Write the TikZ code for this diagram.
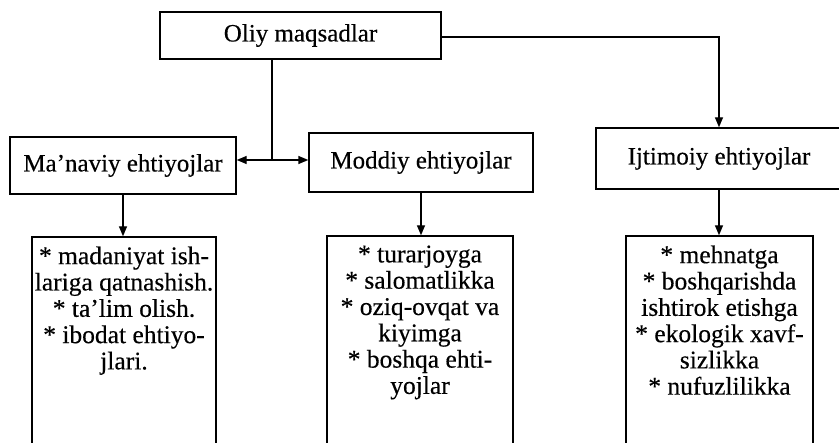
\documentclass[tikz,border=0pt]{standalone}
\usepackage{fontspec}
\setmainfont{Liberation Serif}[FakeBold=0.35]
\usetikzlibrary{arrows.meta}
\begin{document}
\begin{tikzpicture}[x=1pt,y=-1pt,
  box/.style={draw,line width=1.4pt,rectangle,inner sep=0pt,
    font=\fontsize{25}{30}\selectfont},
  frame/.style={draw,line width=1.4pt,rectangle,inner sep=0pt,minimum height=230pt},
  list/.style={anchor=north,align=center,inner sep=0pt,
    font=\fontsize{25.5}{26.3}\selectfont},
  link/.style={line width=1.4pt},
  arr/.style={link,-{Triangle[length=10pt,width=8pt]}}]
\useasboundingbox (0,0) rectangle (839,443);
\clip (0,0) rectangle (839,443);

% top goal
\node[box,minimum width=281pt,minimum height=47pt] (top) at (300.5,35.5) {Oliy maqsadlar};

% three kinds of needs
\node[box,minimum width=226pt,minimum height=57pt] (man) at (123,165.5) {Ma’naviy ehtiyojlar};
\node[box,minimum width=224pt,minimum height=59pt] (mod) at (421,162.5) {Moddiy ehtiyojlar};
\node[box,minimum width=246pt,minimum height=61pt] (ijt) at (719,158.5) {Ijtimoiy ehtiyojlar};

% open-ended frames below (run past the lower edge)
\node[frame,minimum width=184pt] (bl) at (124,352) {};
\node[frame,minimum width=186pt] (bm) at (420,351) {};
\node[frame,minimum width=187pt] (br) at (719.5,351) {};

\node[list] at ([yshift=-10pt]bl.north) {* madaniyat ish-\\lariga qatnashish.\\* ta’lim olish.\\* ibodat ehtiyo-\\jlari.};
\node[list] at ([yshift=-10pt]bm.north) {* turarjoyga\\* salomatlikka\\* oziq-ovqat va\\kiyimga\\* boshqa ehti-\\yojlar};
\node[list] at ([yshift=-10pt]br.north) {* mehnatga\\* boshqarishda\\ishtirok etishga\\* ekologik xavf-\\sizlikka\\* nufuzlilikka};

% connectors
\coordinate (j) at (272,160);
\draw[link] (top.south -| j) -- (j);
\draw[arr] (j) -- (j -| man.east);
\draw[arr] (j) -- (j -| mod.west);
\draw[arr] ([yshift=-1.5pt]top.east) -- ([yshift=-1.5pt]top.east -| ijt.north) -- (ijt.north);

\draw[arr] (man.south) -- (man.south |- bl.north);
\draw[arr] (mod.south) -- (mod.south |- bm.north);
\draw[arr] (ijt.south) -- (ijt.south |- br.north);
\end{tikzpicture}
\end{document}
